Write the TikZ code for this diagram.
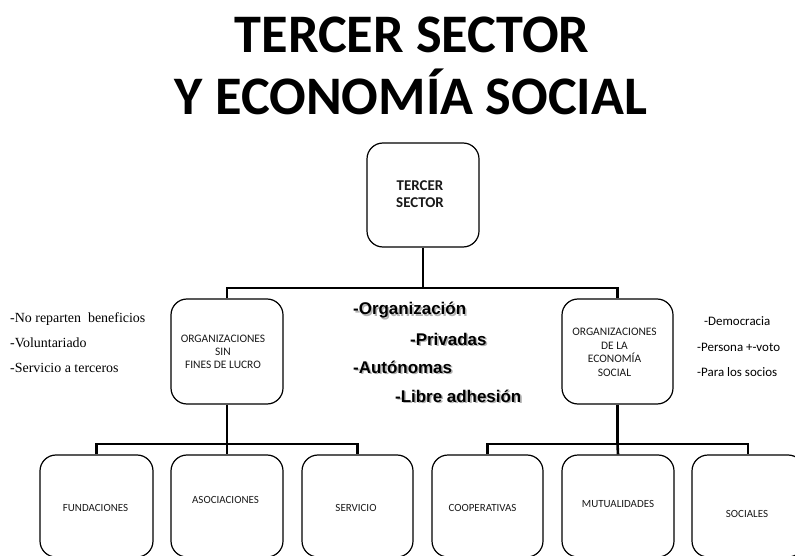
\documentclass[tikz,border=0pt]{standalone}
\usepackage{fontspec}
\setmainfont{Carlito}
\newfontfamily\notesserif{Liberation Serif}
\newfontfamily\boldsans{Liberation Sans}
\newcommand{\shadowtxt}[1]{\rlap{\color{black!30}\raisebox{-1.6pt}{\kern1.6pt #1}}#1}
\begin{document}
\begin{tikzpicture}[x=1bp,y=-1bp,
  box/.style={draw=black, line width=1.2bp, rounded corners=16bp, inner sep=0pt},
  conn/.style={draw=black, line width=2.6bp},
  lbl/.style={inner sep=0pt, anchor=base, text=black!90},
  txt/.style={inner sep=0pt, anchor=base west}]
\useasboundingbox (0,0) rectangle (795,556);
\begin{scope}
\clip (0,0) rectangle (795,556);
% title
\node[lbl, text=black, font=\fontsize{54.5}{60}\selectfont\bfseries] (t1) at (412,53) {TERCER SECTOR};
\node[lbl, text=black, font=\fontsize{54.5}{60}\selectfont\bfseries] (t2) at (411,115) {Y ECONOMÍA SOCIAL};
% boxes
\node[box, minimum width=112bp, minimum height=104bp] (ts) at (423,195) {};
\node[box, minimum width=112bp, minimum height=105bp] (onl) at (227,351.5) {};
\node[box, minimum width=111bp, minimum height=105bp] (oes) at (617.5,351.5) {};
\node[box, minimum width=113bp, minimum height=102bp] (fun) at (96.5,506) {};
\node[box, minimum width=112bp, minimum height=102bp] (aso) at (227,506) {};
\node[box, minimum width=111bp, minimum height=102bp] (ser) at (357.5,506) {};
\node[box, minimum width=111bp, minimum height=102bp] (coo) at (487.5,506) {};
\node[box, minimum width=112bp, minimum height=102bp] (mut) at (618,506) {};
\node[box, minimum width=112bp, minimum height=102bp] (soc) at (748,506) {};
% box texts
\node[inner sep=0pt, align=center, text=black!90, font=\fontsize{15}{17}\selectfont\bfseries] (tst) at (420,194.6) {TERCER\\SECTOR};
\node[inner sep=0pt, align=center, text=black!90, font=\fontsize{11.5}{13.5}\selectfont] (onlt) at (223,351.8) {ORGANIZACIONES\\SIN\\FINES DE LUCRO};
\node[inner sep=0pt, align=center, text=black!90, font=\fontsize{11.5}{14}\selectfont] (oest) at (614.5,352.3) {ORGANIZACIONES\\DE LA\\ECONOMÍA\\SOCIAL};
\node[lbl, font=\fontsize{11}{13}\selectfont] (funt) at (95.5,511) {FUNDACIONES};
\node[lbl, font=\fontsize{11}{13}\selectfont] (asot) at (225.5,503) {ASOCIACIONES};
\node[lbl, font=\fontsize{11}{13}\selectfont] (sert) at (356,511) {SERVICIO};
\node[lbl, font=\fontsize{11}{13}\selectfont] (coot) at (482.5,511) {COOPERATIVAS};
\node[lbl, font=\fontsize{11}{13}\selectfont] (mutt) at (618,507) {MUTUALIDADES};
\node[lbl, font=\fontsize{11}{13}\selectfont] (soct) at (747,517) {SOCIALES};
% connectors
\coordinate (j1) at (423,288);
\coordinate (j2) at (227,444);
\coordinate (j3) at (617.5,444);
\draw[conn] (ts.south) -- (j1);
\draw[conn] (onl.north) |- (j1) -| (oes.north);
\draw[conn] (onl.south) -- (j2);
\draw[conn] (fun.north) |- (j2) -| (ser.north);
\draw[conn] (j2) -- (aso.north);
\draw[conn] (oes.south) -- (j3);
\draw[conn] (coo.north) |- (j3) -| (soc.north);
\draw[conn] (j3) -- (mut.north);
% left notes
\node[txt, font=\notesserif\fontsize{14}{16}\selectfont] (n1) at (10,322) {-No reparten\ \ beneficios};
\node[txt, font=\notesserif\fontsize{14}{16}\selectfont] (n2) at (10,347) {-Voluntariado};
\node[txt, font=\notesserif\fontsize{14}{16}\selectfont] (n3) at (10,372) {-Servicio a terceros};
% right notes
\node[txt, font=\fontsize{13}{15}\selectfont] (r1) at (704,325) {-Democracia};
\node[txt, font=\fontsize{13}{15}\selectfont] (r2) at (697,351) {-Persona +-voto};
\node[txt, font=\fontsize{13}{15}\selectfont] (r3) at (697,376) {-Para los socios};
% middle features
\node[txt, font=\boldsans\bfseries\fontsize{17}{19}\selectfont] (m1) at (353,315) {\shadowtxt{-Organización}};
\node[txt, font=\boldsans\bfseries\fontsize{17}{19}\selectfont] (m2) at (410,345) {\shadowtxt{-Privadas}};
\node[txt, font=\boldsans\bfseries\fontsize{17}{19}\selectfont] (m3) at (353,373) {\shadowtxt{-Autónomas}};
\node[txt, font=\boldsans\bfseries\fontsize{17}{19}\selectfont] (m4) at (395,402) {\shadowtxt{-Libre adhesión}};
\end{scope}
\end{tikzpicture}
\end{document}
